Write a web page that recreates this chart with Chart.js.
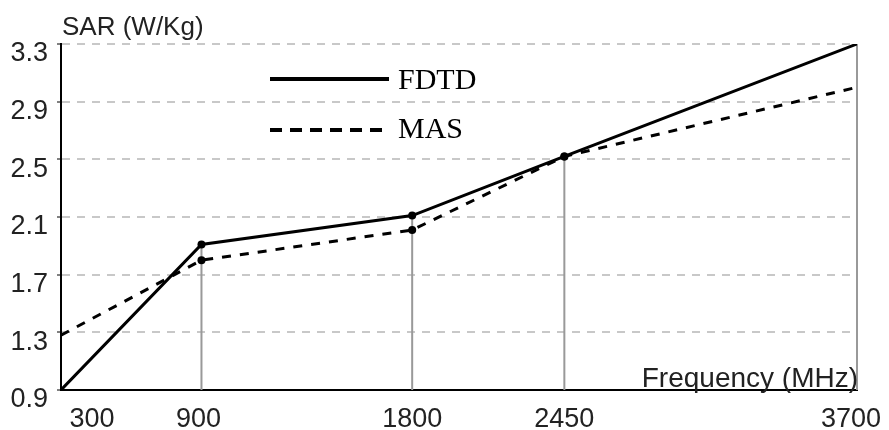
<!DOCTYPE html>
<html>
<head>
<meta charset="utf-8">
<script src="https://cdn.jsdelivr.net/npm/chart.js@4/dist/chart.umd.min.js"></script>
<style>
  html, body { margin: 0; padding: 0; background: #fff; }
  canvas { display: block; }
</style>
</head>
<body>
<canvas id="sar-chart" width="889" height="430"></canvas>
<script>
// frequencies (MHz) and SAR values (W/Kg)
const freqs = [300, 900, 1800, 2450, 3700];
const fdtd = [0.9, 1.91, 2.11, 2.52, 3.3];
const mas = [1.28, 1.8, 2.01, 2.52, 3.0];
const yTicks = [0.9, 1.3, 1.7, 2.1, 2.5, 2.9, 3.3];
const xTickLabels = ["300", "900", "1800", "2450", "3700"];
const seriesNames = ["FDTD", "MAS"];

// end labels are nudged inward like the original
const xLabelNudge = [31, -3, 0, 0, -6];

const sansFont = "Liberation Sans, Arial, sans-serif";
const serifFont = "Liberation Serif, Times New Roman, serif";

function toPoints(values)
{
  return freqs.map(function (f, i) { return { x: f, y: values[i] }; });
}

// grey drop lines from the axis up to each FDTD point
function dropPoints()
{
  var pts = [];
  for (var i = 1; i < freqs.length; i++)
  {
    pts.push({ x: freqs[i], y: yTicks[0] });
    pts.push({ x: freqs[i], y: fdtd[i] });
    pts.push({ x: freqs[i], y: null });
  }
  return pts;
}

const pointSizes = freqs.map(function (f, i) { return (i === 0 || i === freqs.length - 1) ? 0 : 4; });

const textPlugin = {
  id: "textPlugin",
  afterDraw: function (chart) {
    const ctx = chart.ctx;
    const area = chart.chartArea;
    const xScale = chart.scales.x;
    ctx.save();
    ctx.fillStyle = "#222";

    ctx.font = "26px " + sansFont;
    ctx.textAlign = "left";
    ctx.textBaseline = "alphabetic";
    ctx.fillText("SAR (W/Kg)", area.left + 1, 35);

    ctx.font = "28px " + sansFont;
    ctx.textAlign = "right";
    ctx.fillText("Frequency (MHz)", area.right + 1, area.bottom - 3);

    ctx.font = "27px " + sansFont;
    ctx.textAlign = "center";
    for (var i = 0; i < freqs.length; i++)
    {
      ctx.fillText(xTickLabels[i], xScale.getPixelForValue(freqs[i]) + xLabelNudge[i], 427);
    }

    // legend
    ctx.strokeStyle = "#000";
    ctx.lineWidth = 4;
    ctx.beginPath();
    ctx.moveTo(270, 79);
    ctx.lineTo(389, 79);
    ctx.stroke();
    ctx.setLineDash([12, 8]);
    ctx.beginPath();
    ctx.moveTo(270, 130);
    ctx.lineTo(389, 130);
    ctx.stroke();
    ctx.setLineDash([]);

    ctx.fillStyle = "#000";
    ctx.font = "30px " + serifFont;
    ctx.textAlign = "left";
    ctx.fillText(seriesNames[0], 398, 89);
    ctx.fillText(seriesNames[1], 398, 138);
    ctx.restore();
  }
};

const chart = new Chart("sar-chart", {
  type: "scatter",
  data: {
    datasets: [
      {
        label: seriesNames[0],
        data: toPoints(fdtd),
        showLine: true,
        borderColor: "#000",
        backgroundColor: "#000",
        borderWidth: 3,
        pointRadius: pointSizes,
        pointBorderWidth: 0,
        order: 0
      },
      {
        label: seriesNames[1],
        data: toPoints(mas),
        showLine: true,
        borderColor: "#000",
        backgroundColor: "#000",
        borderWidth: 3,
        borderDash: [9, 9],
        pointRadius: pointSizes,
        pointBorderWidth: 0,
        order: 1
      },
      {
        label: "drops",
        data: dropPoints(),
        showLine: true,
        spanGaps: false,
        clip: false,
        borderColor: "#999",
        borderWidth: 2,
        pointRadius: 0,
        order: 2
      }
    ]
  },
  options: {
    responsive: false,
    animation: false,
    events: [],
    layout: { padding: { top: 44, right: 32, left: 0, bottom: 0 } },
    plugins: {
      legend: { display: false },
      tooltip: { enabled: false }
    },
    scales: {
      x: {
        type: "linear",
        min: freqs[0],
        max: freqs[freqs.length - 1],
        afterBuildTicks: function (scale) { scale.ticks = freqs.map(function (v) { return { value: v }; }); },
        afterFit: function (scale) { scale.height = 40; },
        ticks: { display: false },
        grid: { display: false },
        border: { color: "#000", width: 2 }
      },
      y: {
        min: yTicks[0],
        max: yTicks[yTicks.length - 1],
        afterBuildTicks: function (scale) { scale.ticks = yTicks.map(function (v) { return { value: v }; }); },
        afterFit: function (scale) { scale.width = 61; },
        ticks: {
          color: "#222",
          font: { family: sansFont, size: 27 },
          padding: 9,
          labelOffset: 10,
          callback: function (v) { return Number(v).toFixed(1); }
        },
        grid: {
          color: function (c) { return c.tick && c.tick.value === yTicks[0] ? "rgba(0,0,0,0)" : "#c8c8c8"; },
          lineWidth: 2,
          tickColor: "#000",
          tickLength: 4,
          tickWidth: 1
        },
        border: { color: "#000", width: 2, dash: [8, 7] }
      }
    }
  },
  plugins: [textPlugin]
});
</script>
</body>
</html>
